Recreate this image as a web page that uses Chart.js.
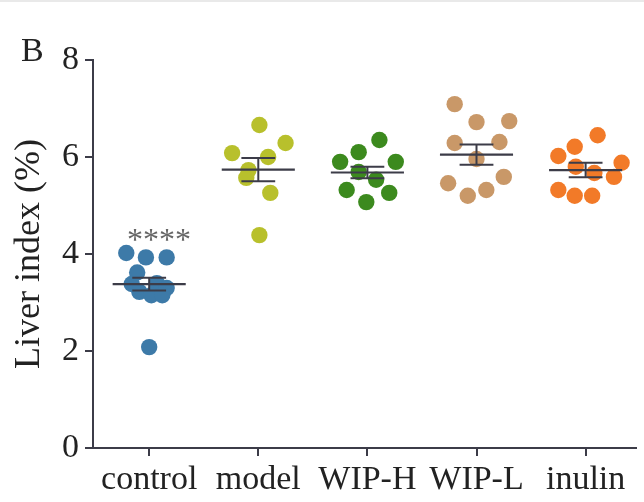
<!DOCTYPE html>
<html><head><meta charset="utf-8">
<script src="https://cdn.jsdelivr.net/npm/chart.js@4/dist/chart.umd.min.js"></script>
<style>
html,body{margin:0;padding:0;background:#fff;overflow:hidden}
#wrap{width:644px;height:502px;position:relative}
#strip{position:absolute;left:0;top:0;width:644px;height:2px;background:#e9e9e9}
</style></head>
<body><div id="wrap"><canvas id="c"></canvas></div><div id="strip"></div>
<script>
const categories = ['control', 'model', 'WIP-H', 'WIP-L', 'inulin'];
const yTicks = [0, 2, 4, 6, 8];
const controlValues = [4.02, 3.93, 3.93, 3.62, 3.38, 3.40, 3.30, 3.22, 3.15, 3.15, 2.08];
const controlJitter = [-0.21, -0.03, 0.16, -0.11, -0.16, 0.07, 0.16, -0.09, 0.02, 0.12, 0.0];
const modelValues = [6.66, 6.29, 6.08, 6.00, 5.73, 5.57, 5.26, 4.39];
const modelJitter = [0.01, 0.25, -0.24, 0.09, -0.09, -0.11, 0.11, 0.01];
const wipHValues = [6.35, 6.10, 5.90, 5.90, 5.69, 5.53, 5.32, 5.26, 5.07];
const wipHJitter = [0.11, -0.08, -0.25, 0.26, -0.08, 0.08, -0.19, 0.20, -0.01];
const wipLValues = [7.09, 6.72, 6.74, 6.29, 6.31, 5.96, 5.46, 5.59, 5.20, 5.32];
const wipLJitter = [-0.20, 0.00, 0.30, -0.20, 0.21, 0.00, -0.26, 0.25, -0.08, 0.09];
const inulinValues = [6.45, 6.21, 6.02, 5.88, 5.80, 5.67, 5.59, 5.32, 5.20, 5.20];
const inulinJitter = [0.11, -0.10, -0.25, 0.33, -0.09, 0.08, 0.26, -0.25, -0.10, 0.06];
const groupMeans = [3.38, 5.74, 5.68, 6.05, 5.73];
const groupSEM = [0.13, 0.24, 0.12, 0.21, 0.15];
const significance = ['****', '', '', '', ''];

const groupValues = [controlValues, modelValues, wipHValues, wipLValues, inulinValues];
const groupJitter = [controlJitter, modelJitter, wipHJitter, wipLJitter, inulinJitter];
const colors = ['#3d7aa8', '#b8c02c', '#3c8a1e', '#c99868', '#f27a28'];
const lineColor = '#3c3c48';
const serif = "'Liberation Serif', 'Times New Roman', serif";

const datasets = [];
const meanData = [], semData = [];
groupMeans.forEach((m, i) => {
  const s = groupSEM[i];
  meanData.push({x: i - 0.335, y: m}, {x: i + 0.335, y: m}, {x: i + 0.4, y: null});
  semData.push({x: i - 0.155, y: m + s}, {x: i + 0.155, y: m + s}, {x: i + 0.16, y: null});
  semData.push({x: i, y: m + s}, {x: i, y: m - s}, {x: i + 0.01, y: null});
  semData.push({x: i - 0.155, y: m - s}, {x: i + 0.155, y: m - s}, {x: i + 0.16, y: null});
});
datasets.push({type: 'line', data: meanData, borderColor: lineColor, borderWidth: 2.2, pointRadius: 0, spanGaps: false, order: 0});
datasets.push({type: 'line', data: semData, borderColor: lineColor, borderWidth: 2, pointRadius: 0, spanGaps: false, order: 0});
groupValues.forEach((vals, i) => {
  datasets.push({
    type: 'scatter',
    data: vals.map((v, k) => ({x: i + groupJitter[i][k], y: v})),
    backgroundColor: colors[i], borderColor: colors[i], borderWidth: 0,
    pointRadius: 8.2, order: 1
  });
});

const textPlugin = {
  id: 'texts',
  afterDraw(chart) {
    const ctx = chart.ctx;
    const xs = chart.scales.x, ys = chart.scales.y;
    ctx.save();
    ctx.fillStyle = '#222';
    ctx.font = '34px ' + serif;
    ctx.textAlign = 'left';
    ctx.textBaseline = 'alphabetic';
    ctx.fillText('B', 21, 61);
    ctx.font = '32px ' + serif;
    ctx.fillStyle = '#666';
    ctx.textAlign = 'center';
    significance.forEach((t, i) => {
      if (!t) return;
      const top = Math.max(...groupValues[i]);
      ctx.fillText(t, xs.getPixelForValue(i + 0.09), ys.getPixelForValue(top) - 3);
    });
    ctx.restore();
  }
};

new Chart(document.getElementById('c'), {
  data: {datasets},
  options: {
    responsive: true, maintainAspectRatio: false, animation: false,
    layout: {padding: {top: 60, right: 0, left: 0, bottom: 0}},
    plugins: {legend: {display: false}, tooltip: {enabled: false}},
    scales: {
      x: {
        type: 'linear', min: -0.515, max: 4.46,
        afterBuildTicks: s => { s.ticks = categories.map((c, i) => ({value: i})); },
        afterFit: s => { s.height = 54; },
        ticks: {callback: v => categories[v] ?? '', color: '#222', font: {family: serif, size: 34}, padding: 4, maxRotation: 0, autoSkip: false},
        grid: {display: true, drawOnChartArea: false, drawTicks: true, tickLength: 8, color: lineColor, lineWidth: 2},
        border: {display: true, color: lineColor, width: 2}
      },
      y: {
        min: 0, max: 8,
        afterBuildTicks: s => { s.ticks = yTicks.map(v => ({value: v})); },
        afterFit: s => { s.width = 93; },
        ticks: {color: '#222', font: {family: serif, size: 34}, padding: 6},
        grid: {display: true, drawOnChartArea: false, drawTicks: true, tickLength: 8, color: lineColor, lineWidth: 2},
        border: {display: true, color: lineColor, width: 2},
        title: {display: true, text: 'Liver index (%)', color: '#222', font: {family: serif, size: 36}, padding: {top: 8, bottom: 0}}
      }
    }
  },
  plugins: [textPlugin]
});
</script></body></html>
